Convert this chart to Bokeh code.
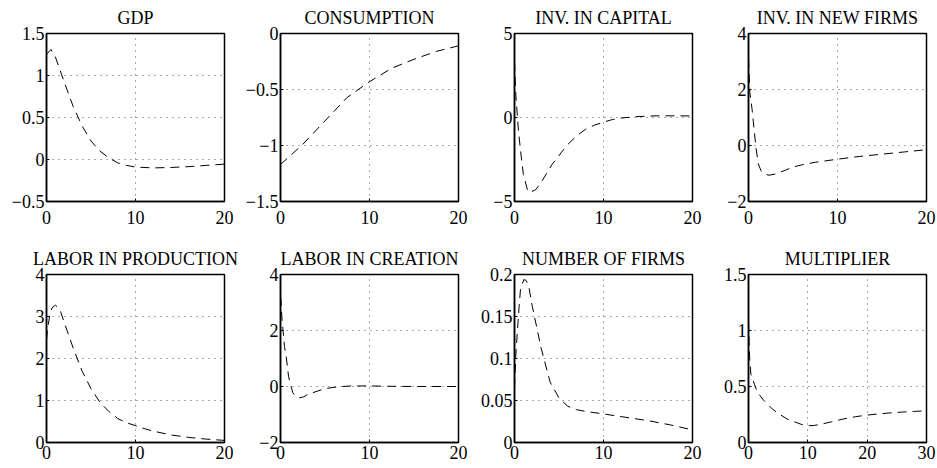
from bokeh.plotting import figure
from bokeh.layouts import column, row
from bokeh.models import Range1d, FixedTicker, CustomJSTickFormatter
from bokeh.embed import file_html
from bokeh.resources import INLINE

FONT = "Liberation Serif"

# ---------------- data ----------------
gdp_t = [0, 0.5, 1, 2, 3, 4, 5, 6, 7, 8, 9, 10, 12, 14, 16, 18, 20]
gdp_y = [1.25, 1.31, 1.22, 0.92, 0.63, 0.40, 0.22, 0.10, 0.02, -0.04, -0.07, -0.09,
         -0.10, -0.095, -0.085, -0.07, -0.055]

cons_t = [0, 2.5, 5, 7.5, 10, 12.5, 15, 17.5, 20]
cons_y = [-1.17, -0.99, -0.78, -0.57, -0.43, -0.31, -0.23, -0.16, -0.11]

invk_t = [0, 0.15, 0.45, 0.75, 1.0, 1.5, 1.8, 2.4, 3.07, 4.2, 5.5, 6, 7, 8, 9, 10, 11, 12, 14, 16, 18, 20]
invk_y = [3.32, 1.34, -0.83, -2.31, -3.4, -4.39, -4.45, -4.29, -3.8, -2.81, -1.92, -1.6,
          -1.08, -0.7, -0.45, -0.28, -0.12, -0.03, 0.06, 0.1, 0.1, 0.09]

invf_t = [0, 0.15, 0.4, 0.65, 0.85, 1.1, 1.4, 1.8, 2.3, 3, 4, 5, 6, 7.5, 10, 12.5, 15, 17.5, 20]
invf_y = [3.1, 1.9, 1.3, 0.5, -0.1, -0.65, -0.9, -1.02, -1.06, -1.02, -0.9, -0.77, -0.69,
          -0.6, -0.49, -0.39, -0.31, -0.23, -0.15]

labp_t = [0, 0.1, 0.35, 0.6, 1, 1.5, 2, 3, 4, 5, 6, 7, 8, 9, 10, 11, 12, 14, 16, 18, 20]
labp_y = [2.45, 2.65, 3.02, 3.2, 3.27, 3.17, 2.85, 2.25, 1.7, 1.28, 0.96, 0.74, 0.57, 0.47,
          0.40, 0.33, 0.27, 0.18, 0.12, 0.08, 0.05]

labc_t = [0, 0.05, 0.15, 0.45, 0.64, 0.82, 0.9, 1.1, 1.38, 1.7, 2.13, 2.6, 3.07, 4.2, 4.94,
          6, 7, 8, 10, 12, 15, 20]
labc_y = [3.2, 3.1, 2.49, 1.42, 1.07, 0.6, 0.37, 0.1, -0.22, -0.35, -0.4, -0.37, -0.28,
          -0.16, -0.08, -0.03, 0.0, 0.02, 0.02, 0.01, 0.0, 0.0]

nfirm_t = [0, 0.15, 0.22, 0.52, 0.67, 1.05, 1.3, 1.6, 2, 3, 4, 5, 6, 7, 8, 10, 12.5, 15, 17.5, 20]
nfirm_y = [0.065, 0.104, 0.116, 0.162, 0.182, 0.194, 0.193, 0.186, 0.162, 0.112, 0.072,
           0.053, 0.043, 0.039, 0.037, 0.034, 0.030, 0.026, 0.021, 0.015]

mult_t = [0, 0.1, 0.2, 0.4, 1, 1.5, 2.5, 4, 5, 6.5, 8, 9, 10, 11, 12, 14, 16, 18, 20, 22,
          24, 26, 28, 30]
mult_y = [1.08, 0.9, 0.75, 0.61, 0.52, 0.45, 0.38, 0.30, 0.26, 0.21, 0.18, 0.16, 0.15,
          0.152, 0.16, 0.185, 0.21, 0.23, 0.245, 0.255, 0.265, 0.272, 0.278, 0.283]

titles = ["GDP", "CONSUMPTION", "INV. IN CAPITAL", "INV. IN NEW FIRMS",
          "LABOR IN PRODUCTION", "LABOR IN CREATION", "NUMBER OF FIRMS", "MULTIPLIER"]
series_t = [gdp_t, cons_t, invk_t, invf_t, labp_t, labc_t, nfirm_t, mult_t]
series_y = [gdp_y, cons_y, invk_y, invf_y, labp_y, labc_y, nfirm_y, mult_y]
x_ticks = [[0, 10, 20]] * 7 + [[0, 10, 20, 30]]
y_ticks = [
    [-0.5, 0, 0.5, 1, 1.5],
    [-1.5, -1, -0.5, 0],
    [-5, 0, 5],
    [-2, 0, 2, 4],
    [0, 1, 2, 3, 4],
    [-2, 0, 2, 4],
    [0, 0.05, 0.1, 0.15, 0.2],
    [0, 0.5, 1, 1.5],
]

fmt_code = """
var s = (Math.round(tick * 1000) / 1000).toString();
if (tick < 0) { s = "\\u2212" + (Math.round(-tick * 1000) / 1000).toString(); }
return s;
"""


def make(i, width, height, left, right, bottom, xstand):
    xt = x_ticks[i]
    yt = y_ticks[i]
    p = figure(width=width, height=height,
               x_range=Range1d(xt[0], xt[-1]), y_range=Range1d(yt[0], yt[-1]),
               output_backend="svg", toolbar_location=None,
               min_border_left=left, min_border_right=right,
               min_border_top=33, min_border_bottom=bottom,
               background_fill_color="white", border_fill_color="white")
    p.title.text = titles[i]
    p.title.text_font = FONT
    p.title.text_font_size = "18px"
    p.title.text_font_style = "normal"
    p.title.text_color = "black"
    p.title.align = "center"
    p.title.standoff = 11

    p.line(series_t[i], series_y[i], line_color="black", line_width=1, line_dash="9 6")

    p.xaxis.ticker = FixedTicker(ticks=xt)
    p.yaxis.ticker = FixedTicker(ticks=yt)
    for ax in (p.xaxis[0], p.yaxis[0]):
        ax.formatter = CustomJSTickFormatter(code=fmt_code)
        ax.major_label_text_font = FONT
        ax.major_label_text_font_size = "18px"
        ax.major_label_text_color = "black"
        ax.axis_line_color = "black"
        ax.axis_line_width = 1.5
        ax.major_tick_line_color = "black"
        ax.major_tick_in = 3
        ax.major_tick_out = 0
        ax.minor_tick_line_color = None
    p.yaxis.major_label_standoff = 2
    p.xaxis.major_label_standoff = xstand

    for g in (p.xgrid[0], p.ygrid[0]):
        g.grid_line_color = "#555555"
        g.grid_line_dash = "1 5"
        g.grid_line_width = 1

    p.outline_line_color = "black"
    p.outline_line_width = 1.5
    p.outline_line_alpha = 1
    return p


# column geometry: frames start at x = 46, 280, 514, 748 (178 px wide)
widths = [240, 228, 234, 235]
lefts = [46, 40, 46, 46]
rights = [16, 10, 10, 11]

row1 = [make(i, widths[i], 241, lefts[i], rights[i], 40, 9) for i in range(4)]
row2 = [make(i, widths[i - 4], 227, lefts[i - 4], rights[i - 4], 26, 3) for i in range(4, 8)]

layout = column(row(*row1), row(*row2))

open("out.html", "w").write(file_html(layout, INLINE))
